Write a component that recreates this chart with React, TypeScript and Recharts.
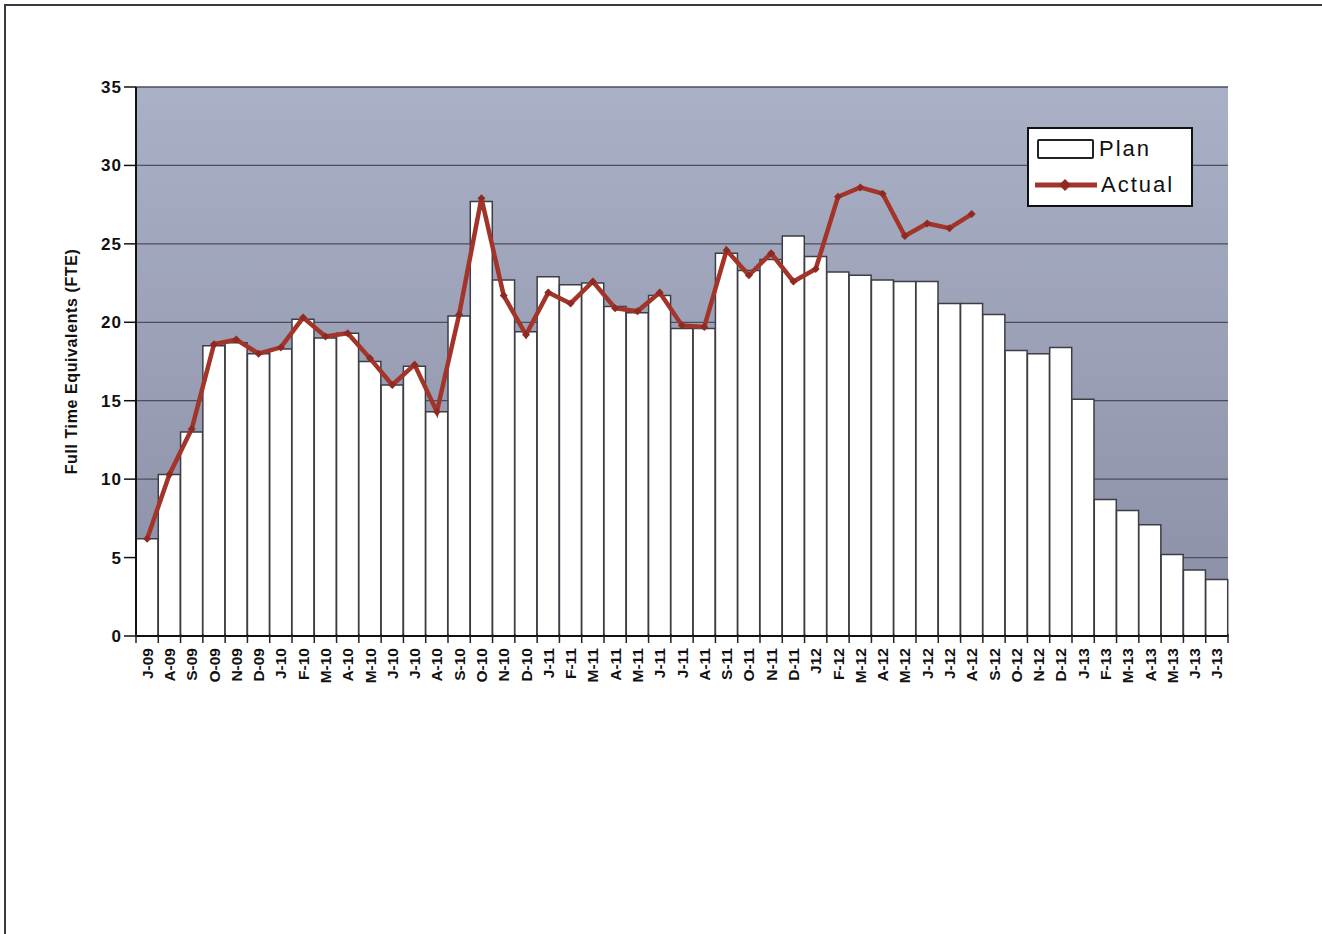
import React from 'react';
import {
  ComposedChart,
  Bar,
  Line,
  XAxis,
  YAxis,
  CartesianGrid,
  Legend,
} from 'recharts';

const months = [
  'J-09', 'A-09', 'S-09', 'O-09', 'N-09', 'D-09',
  'J-10', 'F-10', 'M-10', 'A-10', 'M-10', 'J-10', 'J-10', 'A-10', 'S-10', 'O-10', 'N-10', 'D-10',
  'J-11', 'F-11', 'M-11', 'A-11', 'M-11', 'J-11', 'J-11', 'A-11', 'S-11', 'O-11', 'N-11', 'D-11',
  'J12', 'F-12', 'M-12', 'A-12', 'M-12', 'J-12', 'J-12', 'A-12', 'S-12', 'O-12', 'N-12', 'D-12',
  'J-13', 'F-13', 'M-13', 'A-13', 'M-13', 'J-13', 'J-13',
];

const plan = [
  6.2, 10.3, 13.0, 18.5, 18.7, 18.0,
  18.3, 20.2, 19.0, 19.3, 17.5, 16.0, 17.2, 14.3, 20.4, 27.7, 22.7, 19.4,
  22.9, 22.4, 22.5, 21.0, 20.6, 21.7, 19.6, 19.6, 24.4, 23.3, 24.0, 25.5,
  24.2, 23.2, 23.0, 22.7, 22.6, 22.6, 21.2, 21.2, 20.5, 18.2, 18.0, 18.4,
  15.1, 8.7, 8.0, 7.1, 5.2, 4.2, 3.6,
];

// actuals stop at A-12
const actual = [
  6.2, 10.3, 13.2, 18.6, 18.9, 18.0,
  18.4, 20.3, 19.1, 19.3, 17.7, 16.0, 17.3, 14.3, 20.5, 27.9, 21.7, 19.2,
  21.9, 21.2, 22.6, 20.9, 20.7, 21.9, 19.8, 19.7, 24.6, 23.0, 24.4, 22.6,
  23.4, 28.0, 28.6, 28.2, 25.5, 26.3, 26.0, 26.9,
];

const yTicks = [0, 5, 10, 15, 20, 25, 30, 35];

const data = months.map((m, i) => ({
  month: m,
  plan: plan[i],
  actual: i < actual.length ? actual[i] : null,
}));

const FONT = 'Arial, "Liberation Sans", sans-serif';
const RED = '#a3342a';

const Diamond = (props: any) => {
  const { cx, cy, index } = props;
  if (cy == null) return <g key={`d-${index}`} />;
  const r = 4;
  return (
    <path
      key={`d-${index}`}
      d={`M${cx},${cy - r}L${cx + r},${cy}L${cx},${cy + r}L${cx - r},${cy}Z`}
      fill="#8e2a22"
      stroke="none"
    />
  );
};

const MonthTick = (props: any) => {
  const { x, y, payload, index } = props;
  const half = 1092 / months.length / 2;
  return (
    <g>
      <line x1={x - half} x2={x - half} y1={y - 10} y2={y - 1} stroke="#222" strokeWidth={1.5} />
      {index === months.length - 1 && (
        <line x1={x + half} x2={x + half} y1={y - 10} y2={y - 1} stroke="#222" strokeWidth={1.5} />
      )}
      <text
        x={x}
        y={y + 4}
        transform={`rotate(-90, ${x}, ${y + 4})`}
        textAnchor="end"
        dominantBaseline="central"
        fontFamily={FONT}
        fontWeight="bold"
        fontSize={15.5}
        fill="#111"
      >
        {payload.value}
      </text>
    </g>
  );
};

const LegendBox = () => (
  <div
    style={{
      width: 162,
      height: 76,
      border: '2px solid #111',
      background: '#fff',
      fontFamily: FONT,
      fontSize: 22,
      letterSpacing: 2,
      color: '#111',
      boxSizing: 'content-box',
    }}
  >
    <div style={{ display: 'flex', alignItems: 'center', height: 36, marginTop: 2 }}>
      <div
        style={{
          width: 53,
          height: 16,
          border: '2px solid #222',
          borderRadius: 2,
          background: '#fff',
          marginLeft: 8,
          marginRight: 5,
        }}
      />
      <span>Plan</span>
    </div>
    <div style={{ display: 'flex', alignItems: 'center', height: 36 }}>
      <svg width={62} height={14} style={{ marginLeft: 6, marginRight: 4 }}>
        <line x1={0} x2={62} y1={7} y2={7} stroke={RED} strokeWidth={5} />
        <path d="M30,1L36,7L30,13L24,7Z" fill="#8e2a22" />
      </svg>
      <span>Actual</span>
    </div>
  </div>
);

export default function App() {
  return (
    <div
      style={{
        position: 'absolute',
        left: 0,
        top: 0,
        width: 1322,
        height: 934,
        background: '#fff',
        overflow: 'hidden',
      }}
    >
      <div
        style={{
          position: 'absolute',
          left: 4,
          top: 4,
          right: 0,
          bottom: 0,
          borderTop: '2px solid #3a3a44',
          borderLeft: '2px solid #3a3a44',
        }}
      />
      <ComposedChart
        width={1322}
        height={934}
        data={data}
        margin={{ top: 87, right: 94, bottom: 228, left: 74 }}
        barCategoryGap={0}
        barGap={0}
      >
        <defs>
          <linearGradient id="plotBg" x1="0" y1="0" x2="0" y2="1">
            <stop offset="0%" stopColor="#aab0c5" />
            <stop offset="100%" stopColor="#8a8fa5" />
          </linearGradient>
        </defs>
        <CartesianGrid
          vertical={false}
          stroke="#4a4e5e"
          strokeWidth={1.3}
          fill="url(#plotBg)"
          fillOpacity={1}
        />
        <XAxis
          dataKey="month"
          interval={0}
          tick={<MonthTick />}
          tickLine={false}
          axisLine={{ stroke: '#111', strokeWidth: 2 }}
          height={70}
        />
        <YAxis
          domain={[0, 35]}
          ticks={yTicks}
          interval={0}
          width={62}
          tickSize={12}
          tickMargin={2}
          axisLine={{ stroke: '#111', strokeWidth: 2 }}
          tickLine={{ stroke: '#111', strokeWidth: 1.5 }}
          tick={{ fontFamily: FONT, fontWeight: 'bold', fontSize: 17, fill: '#111', letterSpacing: 1 }}
          label={{
            content: (p: any) => {
              const vb = p.viewBox;
              const cx = 71;
              const cy = vb.y + vb.height / 2;
              return (
                <text
                  x={cx}
                  y={cy}
                  transform={`rotate(-90, ${cx}, ${cy})`}
                  textAnchor="middle"
                  dominantBaseline="central"
                  fontFamily={FONT}
                  fontWeight="bold"
                  fontSize={16}
                  letterSpacing={0.6}
                  fill="#111"
                >
                  Full Time Equivalents (FTE)
                </text>
              );
            },
          }}
        />
        <YAxis
          yAxisId="frame"
          orientation="right"
          domain={[0, 35]}
          width={0}
          tick={false}
          tickLine={false}
          axisLine={{ stroke: '#555a6a', strokeWidth: 1.5 }}
        />
        <Legend
          verticalAlign="middle"
          align="center"
          layout="horizontal"
          content={() => <LegendBox />}
          wrapperStyle={{ left: 1027, top: 127, width: 166, height: 80 }}
        />
        <Bar
          dataKey="plan"
          name="Plan"
          fill="#ffffff"
          stroke="#3d3d45"
          strokeWidth={1.5}
          isAnimationActive={false}
        />
        <Line
          dataKey="actual"
          name="Actual"
          type="linear"
          stroke={RED}
          strokeWidth={4.5}
          dot={Diamond}
          activeDot={false}
          connectNulls={false}
          isAnimationActive={false}
        />
      </ComposedChart>
    </div>
  );
}
